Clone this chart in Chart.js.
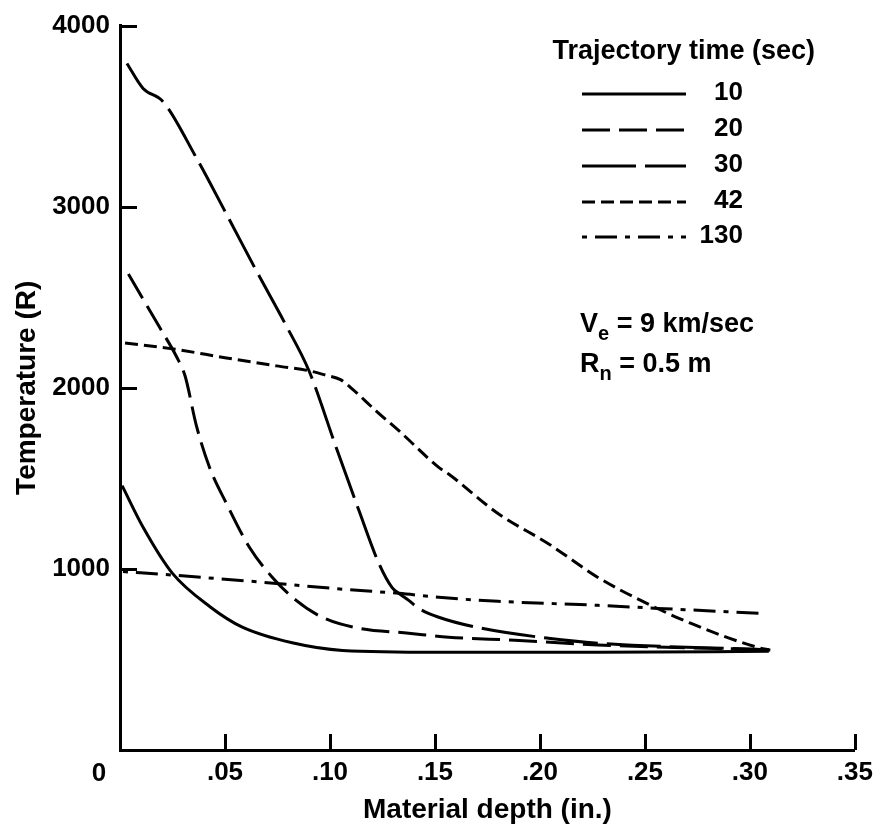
<!DOCTYPE html>
<html><head><meta charset="utf-8">
<script src="https://cdn.jsdelivr.net/npm/chart.js@4.4.0/dist/chart.umd.min.js"></script>
<style>html,body{margin:0;padding:0;background:#fff;}#wrap{width:880px;height:834px;position:relative;}</style>
</head><body><div id="wrap"><canvas id="c" width="880" height="834"></canvas></div>
<script>
// ---- data ----
const seriesLabels = ['10', '20', '30', '42', '130'];
const xTickLabels = ['0', '.05', '.10', '.15', '.20', '.25', '.30', '.35'];
const yTickLabels = ['', '1000', '2000', '3000', '4000'];

const depth10 = [0.001, 0.011, 0.025, 0.043, 0.058, 0.082, 0.106, 0.152, 0.228, 0.309];
const temp10  = [1460, 1230, 975, 790, 680, 592, 550, 540, 540, 545];

const depth20 = [0.004, 0.019, 0.027, 0.031, 0.0364, 0.0427, 0.0507, 0.0617, 0.0726, 0.0839, 0.0963, 0.1138, 0.1375, 0.1565, 0.188, 0.2276, 0.309];
const temp20  = [2628, 2331, 2170, 2065, 1790, 1559, 1361, 1118, 953, 826, 733, 672, 645, 623, 606, 580, 553];

const depth30 = [0.0033, 0.011, 0.0204, 0.0365, 0.0507, 0.065, 0.0792, 0.090, 0.103, 0.1138, 0.1233, 0.1295, 0.1328, 0.1375, 0.1423, 0.1518, 0.1722, 0.204, 0.2276, 0.309];
const temp30  = [3791, 3653, 3581, 3267, 2959, 2645, 2342, 2094, 1669, 1322, 1030, 898, 865, 826, 782, 733, 672, 617, 590, 553];

const depth42 = [0.0024, 0.025, 0.0507, 0.0745, 0.090, 0.098, 0.105, 0.110, 0.1219, 0.1328, 0.1518, 0.1565, 0.180, 0.204, 0.2276, 0.248, 0.2717, 0.3035, 0.3097];
const temp42  = [2248, 2215, 2165, 2121, 2094, 2070, 2045, 2000, 1873, 1763, 1561, 1524, 1306, 1139, 953, 826, 700, 567, 551];

const depth130 = [0.0014, 0.027, 0.0745, 0.1058, 0.1328, 0.1518, 0.180, 0.2276, 0.256, 0.305];
const temp130  = [985, 964, 920, 888, 865, 843, 821, 799, 782, 755];

// ---- build chart ----
function pts(xs, ys) { return xs.map((x, i) => ({ x: x, y: ys[i] })); }
const seriesData = [pts(depth10, temp10), pts(depth20, temp20), pts(depth30, temp30), pts(depth42, temp42), pts(depth130, temp130)];
const dashes = [[], [28, 9], [54, 9], [13, 6], [5, 8, 22, 8]];

const FONT = '"Liberation Sans", Arial, Helvetica, sans-serif';

const datasets = seriesData.map((d, i) => ({
  label: seriesLabels[i],
  data: d,
  borderColor: '#000',
  borderWidth: 3,
  borderDash: dashes[i],
  pointRadius: 0,
  fill: false,
  cubicInterpolationMode: 'monotone'
}));

const decor = {
  id: 'decor',
  afterDraw(chart) {
    const ctx = chart.ctx;
    const xs = chart.scales.x, ys = chart.scales.y;
    const area = chart.chartArea;
    ctx.save();
    ctx.strokeStyle = '#000';
    ctx.lineWidth = 3;
    ctx.setLineDash([]);
    // inward tick marks
    ys.ticks.forEach(t => {
      if (t.value <= 0) return;
      const py = Math.round(ys.getPixelForValue(t.value)) + 0.5;
      ctx.beginPath(); ctx.moveTo(area.left, py); ctx.lineTo(area.left + 17, py); ctx.stroke();
    });
    xs.ticks.forEach(t => {
      if (t.value <= 0) return;
      const px = Math.round(xs.getPixelForValue(t.value)) + 0.5;
      ctx.beginPath(); ctx.moveTo(px, area.bottom); ctx.lineTo(px, area.bottom - 16); ctx.stroke();
    });
    // origin label
    ctx.fillStyle = '#000';
    ctx.font = 'bold 26px ' + FONT;
    ctx.textAlign = 'center';
    ctx.textBaseline = 'middle';
    ctx.fillText(xTickLabels[0], xs.getPixelForValue(0) - 21, 774);

    // legend
    ctx.font = 'bold 27px ' + FONT;
    ctx.textAlign = 'right';
    ctx.fillText('Trajectory time (sec)', 815, 52);
    ctx.font = 'bold 26px ' + FONT;
    const rows = [94, 130, 166, 202, 237];
    chart.data.datasets.forEach((ds, i) => {
      ctx.setLineDash(ds.borderDash || []);
      ctx.lineWidth = 3;
      ctx.beginPath(); ctx.moveTo(582, rows[i]); ctx.lineTo(686, rows[i]); ctx.stroke();
      ctx.setLineDash([]);
      ctx.textAlign = 'right';
      ctx.fillText(ds.label, 743, rows[i] - 1);
    });

    // annotation
    function sub(main, s, rest, x, base) {
      ctx.textAlign = 'left';
      ctx.textBaseline = 'alphabetic';
      ctx.font = 'bold 27px ' + FONT;
      ctx.fillText(main, x, base);
      let cx = x + ctx.measureText(main).width;
      ctx.font = 'bold 20px ' + FONT;
      ctx.fillText(s, cx, base + 8);
      cx += ctx.measureText(s).width;
      ctx.font = 'bold 27px ' + FONT;
      ctx.fillText(rest, cx, base);
    }
    sub('V', 'e', ' = 9 km/sec', 580, 332);
    sub('R', 'n', ' = 0.5 m', 580, 372);
    ctx.restore();
  }
};

new Chart(document.getElementById('c'), {
  type: 'line',
  data: { datasets: datasets },
  plugins: [decor],
  options: {
    responsive: false,
    animation: false,
    devicePixelRatio: 1,
    layout: { padding: { top: 24, right: 22, left: 0, bottom: 0 } },
    plugins: { legend: { display: false }, tooltip: { enabled: false } },
    scales: {
      x: {
        type: 'linear', min: 0, max: 0.35,
        afterFit(s) { s.height = 84; },
        border: { display: true, color: '#000', width: 3 },
        grid: { display: true, drawOnChartArea: false, drawTicks: false },
        ticks: {
          stepSize: 0.05, padding: 7, color: '#000', maxRotation: 0, autoSkip: false,
          font: { family: FONT, size: 26, weight: 'bold' },
          callback: (v, i) => (i === 0 ? '' : xTickLabels[i])
        },
        title: { display: true, text: 'Material depth (in.)', color: '#000',
                 font: { family: FONT, size: 28, weight: 'bold' }, padding: { top: 0, bottom: 7 } }
      },
      y: {
        type: 'linear', min: 0, max: 4000,
        afterFit(s) { s.width = 120; },
        border: { display: true, color: '#000', width: 3 },
        grid: { display: true, drawOnChartArea: false, drawTicks: false },
        ticks: {
          stepSize: 1000, padding: 10, color: '#000',
          font: { family: FONT, size: 26, weight: 'bold' },
          callback: (v, i) => yTickLabels[i]
        },
        title: { display: true, text: 'Temperature (R)', color: '#000',
                 font: { family: FONT, size: 28, weight: 'bold' }, padding: { top: 10, bottom: 0 } }
      }
    }
  }
});
</script></body></html>
